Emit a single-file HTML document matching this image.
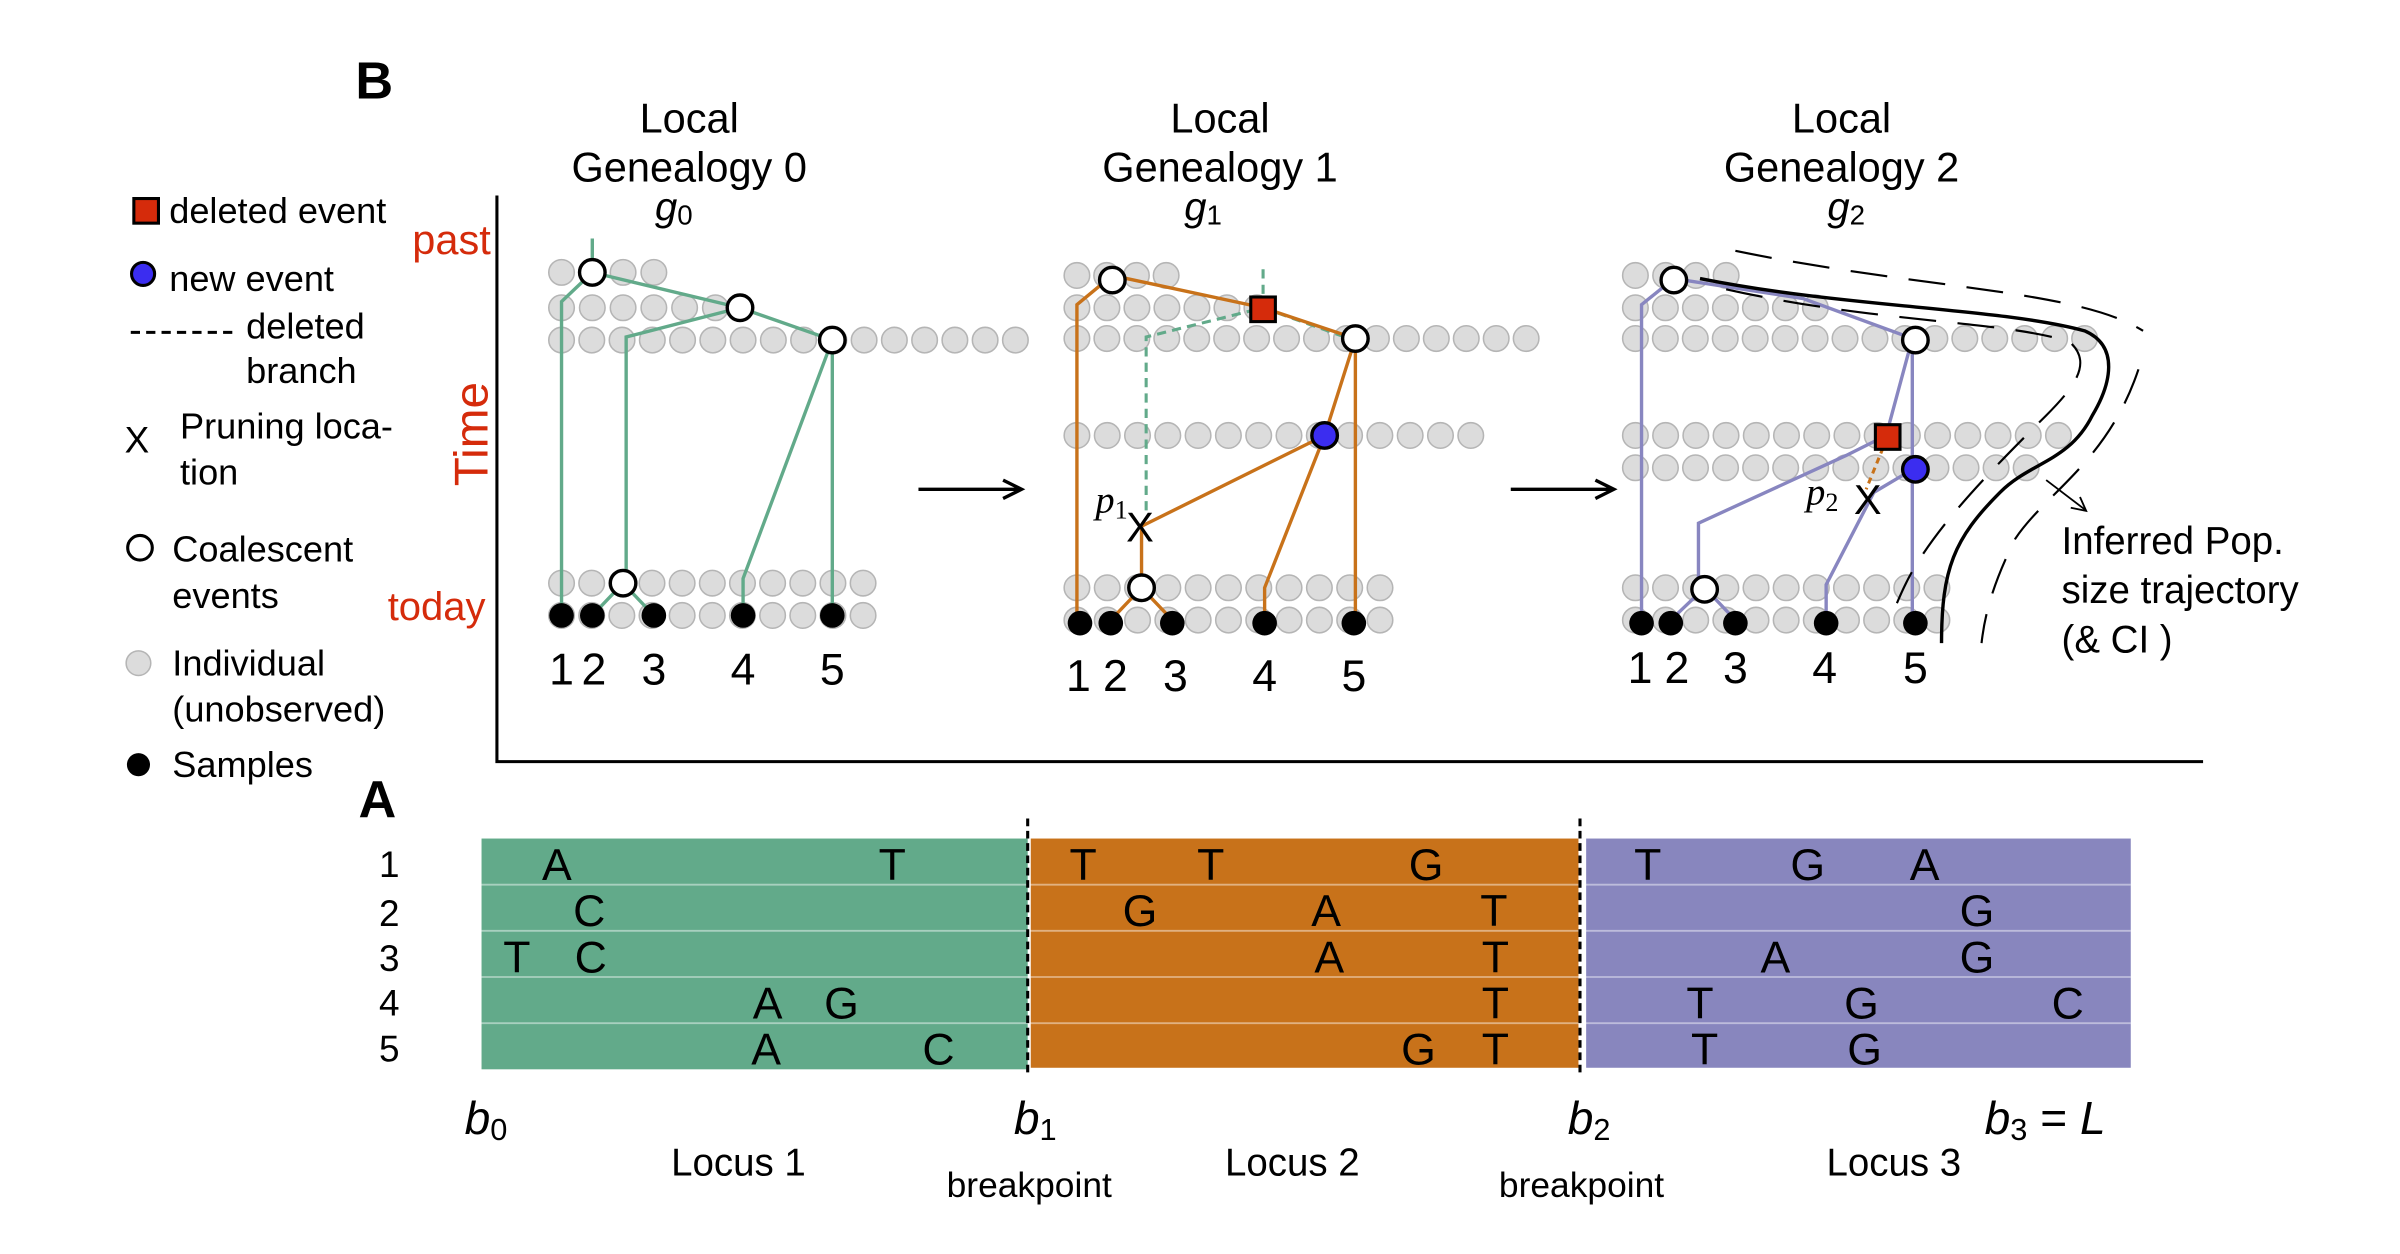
<!DOCTYPE html>
<html><head><meta charset="utf-8"><style>
html,body{margin:0;padding:0;background:#fff}
svg{display:block}
text{font-family:"Liberation Sans",sans-serif}
.s{font-family:"Liberation Serif",serif;font-style:italic}
</style></head><body>
<svg id="sv" width="2400" height="1254" viewBox="0 0 1560 815" xmlns="http://www.w3.org/2000/svg">
<rect width="1560" height="815" fill="#fff"/>
<g id="grey" fill="#dcdcdc" stroke="#b5b5b5" stroke-width="1"></g>

<g stroke="#62aa8a" stroke-width="2.2" fill="none">
<path d="M385 155V177L365 196V400"/>
<path d="M385 177L481 200L541 221V400"/>
<path d="M481 200L407 219V379"/>
<path d="M541 221L483 376V400"/>
<path d="M385 400L405 379L425 400"/>
</g>
<g stroke="#62aa8a" stroke-width="2" fill="none" stroke-dasharray="6,4">
<path d="M821 175V200L745 219V332"/>
<path d="M821 200L877 220"/>
</g>
<g stroke="#c8721a" stroke-width="2.2" fill="none">
<path d="M723 179L700 198V403"/>
<path d="M723 179L821 200L881 220V403"/>
<path d="M881 220L861 283L742 342L742 382"/>
<path d="M861 283L822 382V403"/>
<path d="M722 403L742 382L762 403"/>
</g>
<g stroke="#8886c0" stroke-width="2.2" fill="none">
<path d="M1088 181L1067 198V403"/>
<path d="M1088 181L1172 194L1243 220V403"/>
<path d="M1243 220L1226 283L1200 296L1104 340V382"/>
<path d="M1245 304L1218 320L1187 380V403"/>
<path d="M1086 403L1108 382L1128 403"/>
</g>
<path d="M1224 291L1213 318" stroke="#c8721a" stroke-width="2" stroke-dasharray="4,3" fill="none"/>

<g fill="none" stroke="#000">
<path d="M1105 181 C1200 200,1300 200,1355 215 C1378 225,1372 250,1360 270 C1345 300,1320 300,1300 320 C1270 350,1262 370,1262 418" stroke-width="2.2"/>
<path d="M1128 163 C1250 188,1350 188,1393 215" stroke-width="1.4" stroke-dasharray="24,14"/>
<path d="M1390 240 C1370 300,1330 320,1310 350 C1295 380,1290 400,1288 418" stroke-width="1.4" stroke-dasharray="24,14"/>
<path d="M1122 188 C1220 210,1300 208,1345 222 C1360 235,1350 250,1330 270 C1300 300,1270 330,1250 360 C1240 375,1236 385,1233 392" stroke-width="1.4" stroke-dasharray="24,14"/>
<path d="M1330 312L1355 331" stroke-width="1.2"/>
<path d="M1346 330L1356 332L1352 323" stroke-width="1.2"/>
</g>

<g id="spec"></g>

<text x="732" y="352" font-size="27">X</text>
<text x="1205" y="334" font-size="27">X</text>
<text x="712" y="333" class="s" font-size="25">p<tspan font-size="17" dy="4" font-style="normal">1</tspan></text>
<text x="1174" y="328" class="s" font-size="25">p<tspan font-size="17" dy="4" font-style="normal">2</tspan></text>

<g stroke="#000" stroke-width="2.2" fill="none">
<path d="M597 318H663M652 312L664 318L652 324"/>
<path d="M982 318H1048M1037 312L1049 318L1037 324"/>
</g>

<path d="M323 127V495H1432" stroke="#000" stroke-width="2" fill="none"/>

<text x="231" y="64" font-size="34" font-weight="bold">B</text>
<g font-size="27" text-anchor="middle">
<text x="448" y="86">Local</text><text x="448" y="118">Genealogy 0</text>
<text x="793" y="86">Local</text><text x="793" y="118">Genealogy 1</text>
<text x="1197" y="86">Local</text><text x="1197" y="118">Genealogy 2</text>
</g>
<g font-size="26" class="s" text-anchor="middle">
<text x="438" y="143">g<tspan font-size="18" dy="3" font-style="normal">0</tspan></text>
<text x="782" y="143">g<tspan font-size="18" dy="3" font-style="normal">1</tspan></text>
<text x="1200" y="143">g<tspan font-size="18" dy="3" font-style="normal">2</tspan></text>
</g>
<text x="268" y="165" font-size="27" fill="#d52b0b">past</text>
<text x="252" y="403" font-size="26" fill="#d52b0b">today</text>
<text x="0" y="0" font-size="31" fill="#d52b0b" transform="translate(317,316) rotate(-90)">Time</text>

<rect x="87" y="129" width="16" height="16" fill="#d52b0b" stroke="#000" stroke-width="2"/>
<circle cx="93" cy="178" r="7.5" fill="#3b2df0" stroke="#000" stroke-width="2"/>
<path d="M85 216H152" stroke="#000" stroke-width="2" stroke-dasharray="6,4"/>
<circle cx="91" cy="356" r="8" fill="#fff" stroke="#000" stroke-width="2"/>
<circle cx="90" cy="431" r="8" fill="#dcdcdc" stroke="#b5b5b5"/>
<circle cx="90" cy="497" r="7.5" fill="#000"/>
<g font-size="23.5">
<text x="110" y="145">deleted event</text>
<text x="110" y="189">new event</text>
<text x="160" y="220">deleted</text>
<text x="160" y="249">branch</text>
<text x="81" y="294" font-size="24">X</text>
<text x="117" y="285">Pruning loca-</text>
<text x="117" y="315">tion</text>
<text x="112" y="365">Coalescent</text>
<text x="112" y="395">events</text>
<text x="112" y="439">Individual</text>
<text x="112" y="469">(unobserved)</text>
<text x="112" y="505">Samples</text>
</g>
<g font-size="25">
<text x="1340" y="360">Inferred Pop.</text>
<text x="1340" y="392">size trajectory</text>
<text x="1340" y="424">(&amp; CI )</text>
</g>

<g font-size="29" text-anchor="middle">
<text x="365" y="445">1</text><text x="386" y="445">2</text><text x="425" y="445">3</text><text x="483" y="445">4</text><text x="541" y="445">5</text>
<text x="701" y="449">1</text><text x="725" y="449">2</text><text x="764" y="449">3</text><text x="822" y="449">4</text><text x="880" y="449">5</text>
<text x="1066" y="444">1</text><text x="1090" y="444">2</text><text x="1128" y="444">3</text><text x="1186" y="444">4</text><text x="1245" y="444">5</text>
</g>

<text x="233" y="531" font-size="34" font-weight="bold">A</text>
<rect x="313" y="545" width="355" height="150" fill="#62aa8a"/>
<rect x="670" y="545" width="356" height="149" fill="#c8721a"/>
<rect x="1031" y="545" width="354" height="149" fill="#8886be"/>
<g stroke="#fff" stroke-opacity="0.45" stroke-width="1.2">
<path d="M313 575H1385M313 605H1385M313 635H1385M313 665H1385"/>
</g>
<g stroke="#000" stroke-width="2" stroke-dasharray="5,3">
<path d="M668 532V698M1027 532V698"/>
</g>
<g font-size="24" text-anchor="middle">
<text x="253" y="570">1</text><text x="253" y="602">2</text><text x="253" y="631">3</text><text x="253" y="660">4</text><text x="253" y="690">5</text>
</g>
<g font-size="29" text-anchor="middle">
<text x="362" y="572">A</text><text x="580" y="572">T</text><text x="704" y="572">T</text><text x="787" y="572">T</text><text x="927" y="572">G</text><text x="1071" y="572">T</text><text x="1175" y="572">G</text><text x="1251" y="572">A</text>
<text x="383" y="602">C</text><text x="741" y="602">G</text><text x="862" y="602">A</text><text x="971" y="602">T</text><text x="1285" y="602">G</text>
<text x="336" y="632">T</text><text x="384" y="632">C</text><text x="864" y="632">A</text><text x="972" y="632">T</text><text x="1154" y="632">A</text><text x="1285" y="632">G</text>
<text x="499" y="662">A</text><text x="547" y="662">G</text><text x="972" y="662">T</text><text x="1105" y="662">T</text><text x="1210" y="662">G</text><text x="1344" y="662">C</text>
<text x="498" y="692">A</text><text x="610" y="692">C</text><text x="922" y="692">G</text><text x="972" y="692">T</text><text x="1108" y="692">T</text><text x="1212" y="692">G</text>
</g>
<g font-size="30" class="s">
<text x="302" y="737">b<tspan font-size="20" dy="4" font-style="normal">0</tspan></text>
<text x="659" y="737">b<tspan font-size="20" dy="4" font-style="normal">1</tspan></text>
<text x="1019" y="737">b<tspan font-size="20" dy="4" font-style="normal">2</tspan></text>
<text x="1290" y="737">b<tspan font-size="20" dy="4" font-style="normal">3</tspan><tspan dy="-4" font-style="normal"> = </tspan>L</text>
</g>
<g font-size="25" text-anchor="middle">
<text x="480" y="764">Locus 1</text><text x="840" y="764">Locus 2</text><text x="1231" y="764">Locus 3</text>
</g>
<g font-size="23" text-anchor="middle">
<text x="669" y="778">breakpoint</text><text x="1028" y="778">breakpoint</text>
</g>
</svg>
<script>
var NS="http://www.w3.org/2000/svg",g=document.getElementById("grey"),sp=document.getElementById("spec");
function row(x0,x1,n,y){for(var i=0;i<n;i++){var c=document.createElementNS(NS,"circle");c.setAttribute("cx",x0+(x1-x0)*i/(n-1));c.setAttribute("cy",y);c.setAttribute("r",8.3);g.appendChild(c);}}
row(365,425,4,177);row(365,465,6,200);row(365,660,16,221);row(365,561,11,379);row(365,561,11,400);
row(700,758,4,179);row(700,817,7,200);row(700,992,16,220);row(700,956,14,283);row(700,897,11,382);row(700,897,11,403);
row(1063,1122,4,179);row(1063,1180,7,200);row(1063,1355,16,220);row(1063,1338,15,283);row(1063,1317,14,304);row(1063,1259,11,382);row(1063,1259,11,403);
function circ(x,y,f,s){var c=document.createElementNS(NS,"circle");c.setAttribute("cx",x);c.setAttribute("cy",y);c.setAttribute("r",f=="#000"?8:8.3);c.setAttribute("fill",f);if(s){c.setAttribute("stroke","#000");c.setAttribute("stroke-width",2.2);}sp.appendChild(c);}
function sq(x,y){var r=document.createElementNS(NS,"rect");r.setAttribute("x",x-8);r.setAttribute("y",y-8);r.setAttribute("width",16);r.setAttribute("height",16);r.setAttribute("fill","#d52b0b");r.setAttribute("stroke","#000");r.setAttribute("stroke-width",2);sp.appendChild(r);}
[[385,177],[481,200],[541,221],[405,379],[723,182],[881,220],[742,382],[1088,182],[1245,221],[1108,383]].forEach(function(p){circ(p[0],p[1],"#fff",1)});
[365,385,425,483,541].forEach(function(x){circ(x,400,"#000")});
[702,722,762,822,880].forEach(function(x){circ(x,405,"#000")});
[1067,1086,1128,1187,1245].forEach(function(x){circ(x,405,"#000")});
circ(861,283,"#3b2df0",1);circ(1245,305,"#3b2df0",1);
sq(821,201);sq(1227,284);
</script>
</body></html>
